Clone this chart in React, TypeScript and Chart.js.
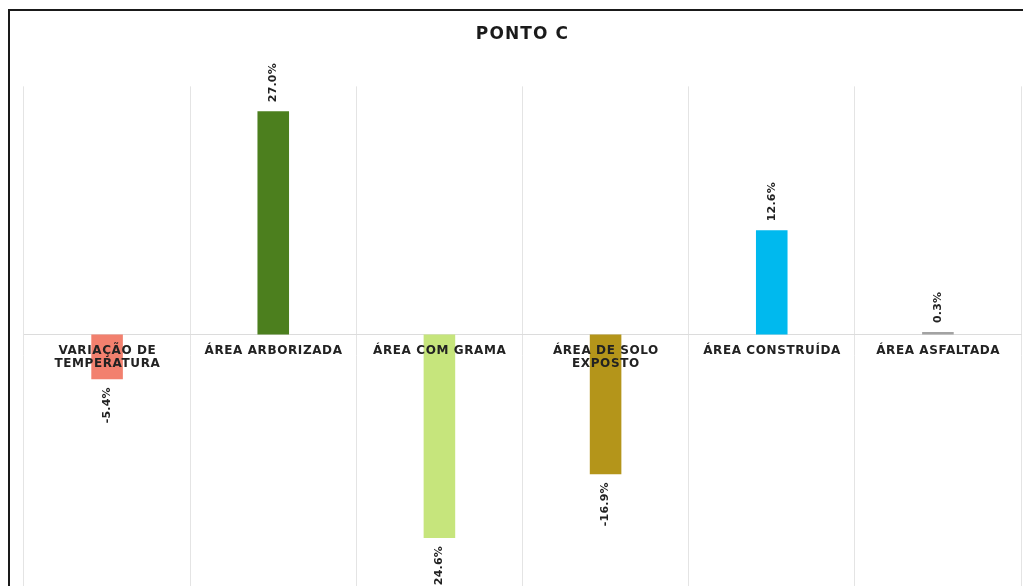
import React, { useEffect, useRef } from "react";
import { Chart, registerables } from "chart.js";

Chart.register(...registerables);

const categories: string[][] = [
  ["VARIAÇÃO DE", "TEMPERATURA"],
  ["ÁREA ARBORIZADA"],
  ["ÁREA COM GRAMA"],
  ["ÁREA DE SOLO", "EXPOSTO"],
  ["ÁREA CONSTRUÍDA"],
  ["ÁREA ASFALTADA"],
];
const values = [-5.4, 27.0, -24.6, -16.9, 12.6, 0.3];
const barColors = ["#F2806E", "#4C7F1E", "#C6E57C", "#B4951A", "#00B9EE", "#A3A3A3"];
const titleText = "PONTO C";

const spacingPlugin = {
  id: "spacing",
  beforeUpdate(chart: any) {
    chart.ctx.letterSpacing = "1.1px";
  },
  beforeLayout(chart: any) {
    chart.ctx.letterSpacing = "1.1px";
  },
  beforeDraw(chart: any) {
    chart.ctx.letterSpacing = "1.1px";
  },
};

const labelPlugin = {
  id: "barLabels",
  afterDatasetsDraw(chart: any) {
    const ctx = chart.ctx;
    const meta = chart.getDatasetMeta(0);
    const xScale = chart.scales.x;
    const yScale = chart.scales.y;
    const zeroY = yScale.getPixelForValue(0);

    // category labels drawn on top of the bars
    ctx.save();
    ctx.letterSpacing = "0.6px";
    ctx.font = "bold 12px 'DejaVu Sans'";
    ctx.fillStyle = "#222";
    ctx.textAlign = "center";
    ctx.textBaseline = "top";
    categories.forEach((lines, i) => {
      const x = xScale.getPixelForValue(i) + 0.3;
      lines.forEach((ln, j) => {
        ctx.fillText(ln, x, zeroY + 10 + j * 13);
      });
    });
    ctx.restore();

    // value labels
    ctx.save();
    ctx.letterSpacing = "0.2px";
    ctx.font = "bold 11px 'DejaVu Sans'";
    ctx.fillStyle = "#222";
    ctx.textBaseline = "middle";
    meta.data.forEach((bar: any, i: number) => {
      const v = values[i];
      const txt = v.toFixed(1) + "%";
      ctx.save();
      if (v >= 0) {
        ctx.translate(bar.x, bar.y - 9);
        ctx.rotate(-Math.PI / 2);
        ctx.textAlign = "left";
      } else {
        ctx.translate(bar.x, bar.y + 8);
        ctx.rotate(-Math.PI / 2);
        ctx.textAlign = "right";
      }
      ctx.fillText(txt, 0, 0);
      ctx.restore();
    });
    ctx.restore();
  },
};

export default function App() {
  const ref = useRef<HTMLCanvasElement>(null);
  useEffect(() => {
    if (!ref.current) return;
    const chart = new Chart(ref.current, {
      type: "bar",
      data: {
        labels: categories.map((c) => c.join(" ")),
        datasets: [
          {
            data: values,
            backgroundColor: barColors,
            borderWidth: 0,
            barPercentage: 0.19,
            categoryPercentage: 1,
          },
        ],
      },
      options: {
        animation: false,
        responsive: false,
        maintainAspectRatio: false,
        layout: { padding: { left: 14, right: 2, top: 0, bottom: 27 } },
        plugins: {
          legend: { display: false },
          tooltip: { enabled: false },
          title: {
            display: true,
            text: titleText,
            color: "#1a1a1a",
            font: { family: "'DejaVu Sans'", size: 17, weight: "bold" },
            padding: { top: 13, bottom: 42 },
          },
        },
        scales: {
          x: {
            position: { y: 0 } as any,
            grid: { color: "#e4e4e4", lineWidth: 1, drawTicks: false, offset: true },
            border: { display: true, color: "#dcdcdc", width: 1 },
            ticks: { display: false },
          },
          y: {
            display: false,
            min: -35,
            max: 30,
          },
        },
      },
      plugins: [spacingPlugin, labelPlugin],
    });
    return () => chart.destroy();
  }, []);

  return (
    <div
      style={{
        position: "absolute",
        left: 8,
        top: 9,
        width: 1015,
        height: 640,
        borderTop: "2px solid #1a1a1a",
        borderLeft: "2px solid #1a1a1a",
        background: "#fff",
      }}
    >
      <canvas ref={ref} width={1013} height={640} style={{ display: "block" }} />
    </div>
  );
}
